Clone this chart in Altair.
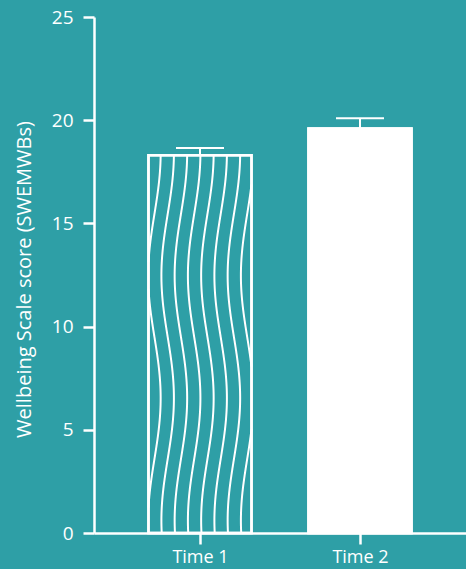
import numpy as np
import pandas as pd
import altair as alt

BG = "#2E9FA6"
FONT = "Open Sans"

# ---- data ----
categories = ["Time 1", "Time 2"]
positions = [1, 2]
means = [18.3, 19.6]
sems = [0.35, 0.5]
y_ticks = [0, 5, 10, 15, 20, 25]
y_title = "Wellbeing Scale score (SWEMWBs)"

# ---- geometry of marks (in data units) ----
bar_half = 0.322
cap_half = 0.15
fills = [BG, "#FFFFFF"]

bars = pd.DataFrame({
    "cat": categories,
    "pos": positions,
    "mean": means,
    "upper": [m + s for m, s in zip(means, sems)],
    "x0": [p - bar_half for p in positions],
    "x1": [p + bar_half for p in positions],
    "c0": [p - cap_half for p in positions],
    "c1": [p + cap_half for p in positions],
    "fill": fills,
})

# ---- decorative wavy fill texture for the first bar ----
wave_spacing = 13.25 / 160.0
wave_amp = 6.25 / 160.0
wave_period = 11.87
wave_phase = 6.54
x_left = positions[0] - bar_half
x_right = positions[0] + bar_half
ys = np.linspace(0, means[0], 700)
rows = []
seg = 0
for k in range(-2, 10):
    c = x_left + 0.037 + k * wave_spacing
    xs = c + wave_amp * np.cos(2 * np.pi * (ys - wave_phase) / wave_period)
    inside = (xs >= x_left) & (xs <= x_right)
    prev = False
    for i, (xv, yv, ok) in enumerate(zip(xs, ys, inside)):
        if ok:
            if not prev:
                seg += 1
            rows.append({"x": float(xv), "y": float(yv), "seg": seg, "i": i})
        prev = bool(ok)
waves = pd.DataFrame(rows)

x_scale = alt.Scale(domain=[0.3375, 2.6625], nice=False, zero=False)
y_scale = alt.Scale(domain=[0, 25], nice=False)

x_axis = alt.Axis(
    values=positions,
    labelExpr="datum.value == 1 ? 'Time 1' : 'Time 2'",
    title="",
    labelPadding=4,
    labelFontSize=18,
)
y_axis = alt.Axis(
    values=y_ticks,
    title=y_title,
    labelPadding=10,
    titleX=-64,
    titleY=262,
    titleAlign="center",
    titleBaseline="alphabetic",
)

base = alt.Chart(bars)

bar_layer = base.mark_rect(stroke="#FFFFFF", strokeWidth=2.5).encode(
    x=alt.X("x0:Q", scale=x_scale, axis=x_axis),
    x2="x1:Q",
    y=alt.Y("mean:Q", scale=y_scale, axis=y_axis),
    y2=alt.datum(0),
    fill=alt.Fill("fill:N", scale=None),
)

wave_layer = alt.Chart(waves).mark_line(color="#FFFFFF", strokeWidth=2).encode(
    x=alt.X("x:Q", scale=x_scale),
    y=alt.Y("y:Q", scale=y_scale),
    detail="seg:N",
    order="i:Q",
)

outline_layer = base.mark_rect(stroke="#FFFFFF", strokeWidth=2.5, fillOpacity=0).encode(
    x=alt.X("x0:Q", scale=x_scale),
    x2="x1:Q",
    y=alt.Y("mean:Q", scale=y_scale),
    y2=alt.datum(0),
)

stem_layer = base.mark_rule(color="#FFFFFF", strokeWidth=2).encode(
    x=alt.X("pos:Q", scale=x_scale),
    y=alt.Y("mean:Q", scale=y_scale),
    y2="upper:Q",
)

cap_layer = base.mark_rule(color="#FFFFFF", strokeWidth=2).encode(
    x=alt.X("c0:Q", scale=x_scale),
    x2="c1:Q",
    y=alt.Y("upper:Q", scale=y_scale),
)

chart = (
    alt.layer(bar_layer, wave_layer, outline_layer, stem_layer, cap_layer)
    .properties(
        width=372,
        height=516,
        autosize="none",
        padding={"left": 94, "top": 17, "right": 0, "bottom": 36},
        background=BG,
    )
    .configure_view(stroke=None)
    .configure_axis(
        grid=False,
        domainColor="#FFFFFF",
        domainWidth=2.5,
        tickColor="#FFFFFF",
        tickWidth=2.5,
        tickSize=11,
        labelColor="#FFFFFF",
        labelFont=FONT,
        labelFontSize=19,
        titleColor="#FFFFFF",
        titleFont=FONT,
        titleFontSize=20,
        titleFontWeight="normal",
    )
)

chart.save("out.html", embed_options={"renderer": "svg", "actions": False})
